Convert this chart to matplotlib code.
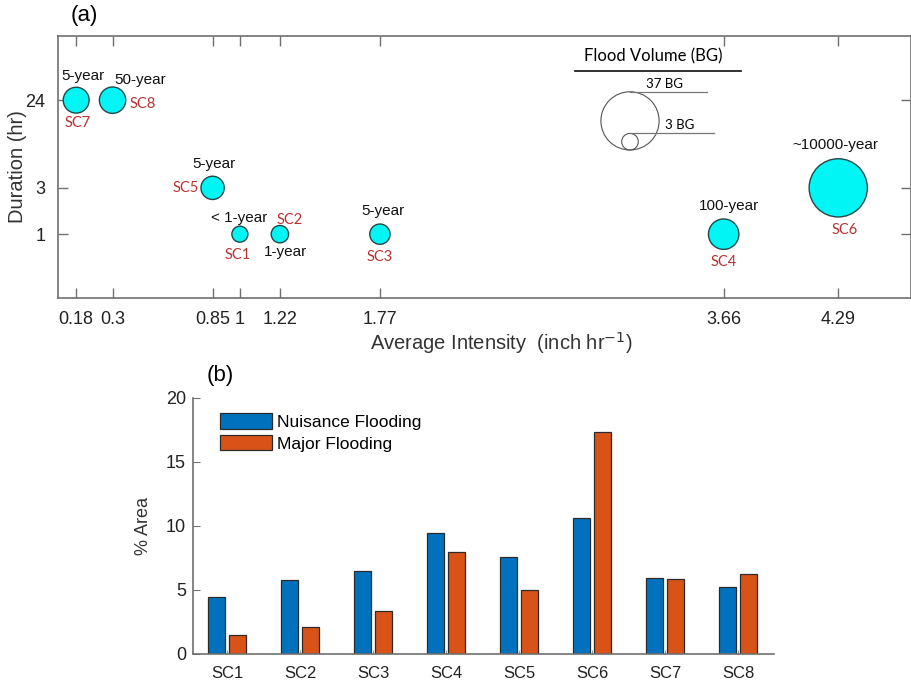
import numpy as np
import matplotlib
matplotlib.use("Agg")
import matplotlib.pyplot as plt

plt.rcParams['font.family'] = ['Liberation Sans', 'DejaVu Sans']

# (a) storm scenarios
scenarios = ["SC1", "SC2", "SC3", "SC4", "SC5", "SC6", "SC7", "SC8"]
intensity_pos = [1.0, 1.22, 1.77, 3.66, 0.85, 4.29, 0.10, 0.30]   # SC7 drawn left of 0.3
duration = [1, 1, 1, 1, 3, 3, 24, 24]
volume_bg = [2.8, 3.3, 4.5, 10.1, 5.9, 37, 7.3, 7.6]
return_period = ["< 1-year", "1-year", "5-year", "100-year", "5-year",
                 "~10000-year", "5-year", "50-year"]
xtick_pos = [0.10, 0.30, 0.85, 1.0, 1.22, 1.77, 3.66, 4.29]
xtick_labels = ["0.18", "0.3", "0.85", "1", "1.22", "1.77", "3.66", "4.29"]
ytick_vals = [1, 3, 24]
legend_volumes = [37, 3]

# (b) flooded area
nuisance = [4.43, 5.79, 6.52, 9.49, 7.61, 10.64, 5.95, 5.27]
major = [1.46, 2.09, 3.39, 8.0, 5.0, 17.31, 5.87, 6.28]

# label offsets in pixels (dx, dy) for period text and scenario name
period_off = [(-1, 16), (6, -18), (3, 23), (5, 28), (1, 24), (-3, 43), (7, 24), (28, 20)]
sc_off = [(-2, -21), (10, 14), (0, -23), (0, -28), (-27, 0), (6, -42), (1, -23), (30, -4)]

size_per_bg = 47.5  # marker area (pt^2) per billion gallons
red = "#B83232"
spine_col = "#707070"

fig = plt.figure(figsize=(9.12, 6.83), dpi=100)

# ---------- panel (a) ----------
ax1 = fig.add_axes([58 / 912, 1 - 298 / 683, 853 / 912, 262 / 683])
ax1.scatter(intensity_pos, duration, s=np.array(volume_bg) * size_per_bg,
            facecolor="#00F5F5", edgecolor="#234848", linewidth=1.0, zorder=3)
ax1.set_yscale("log")
ax1.set_xlim(0.0, 4.69)
ax1.set_ylim(0.22, 110)
ax1.set_xticks(xtick_pos)
ax1.set_xticklabels(xtick_labels)
ax1.set_yticks(ytick_vals)
ax1.set_yticklabels([str(v) for v in ytick_vals])
ax1.minorticks_off()
ax1.tick_params(direction="in", length=7, width=1, color=spine_col,
                top=True, right=True, labelsize=13, pad=9, labelcolor="#222222")
for sp in ax1.spines.values():
    sp.set_color(spine_col)
    sp.set_linewidth(1.2)
ax1.set_xlabel("Average Intensity  (inch hr$^{-1}$)", fontsize=14.5, color="#333333")
ax1.xaxis.set_label_coords(0.52, -0.123)
ax1.set_ylabel("Duration (hr)", fontsize=14.5, color="#333333")
ax1.yaxis.set_label_coords(-0.036, 0.5)

for i in range(len(scenarios)):
    dx, dy = period_off[i]
    ax1.annotate(return_period[i], (intensity_pos[i], duration[i]),
                 xytext=(dx * 0.72, dy * 0.72), textcoords="offset points",
                 ha="center", va="center", fontsize=11, color="#111111")
    dx, dy = sc_off[i]
    ax1.annotate(scenarios[i], (intensity_pos[i], duration[i]),
                 xytext=(dx * 0.72, dy * 0.72), textcoords="offset points",
                 ha="center", va="center", fontsize=10.5, color=red,
                 family=["Lato", "DejaVu Sans"])

# flood volume legend
lx = (630 - 58) / 853
ax1.text((653 - 58) / 853, (298 - 56) / 262, "Flood Volume (BG)", transform=ax1.transAxes,
         ha="center", va="center", fontsize=12, family=["Lato", "DejaVu Sans"])
ax1.plot([(575 - 58) / 853, (741 - 58) / 853], [(298 - 71) / 262] * 2,
         transform=ax1.transAxes, color="#222222", lw=1.3, clip_on=False)
base_y = (298 - 150) / 262
for v, lbl_x, line_end in zip(legend_volumes, [664, 680], [707, 714]):
    r_px = np.sqrt(v * size_per_bg) / 2 / 0.72
    cy = base_y + r_px / 262
    ax1.scatter([lx], [cy], s=v * size_per_bg, transform=ax1.transAxes,
                facecolor="none", edgecolor="#555555", linewidth=0.8)
    top_y = base_y + 2 * r_px / 262
    ax1.plot([lx, (line_end - 58) / 853], [top_y, top_y], transform=ax1.transAxes,
             color="#777777", lw=0.9)
    ax1.text((lbl_x - 58) / 853, top_y + 8 / 262, f"{v} BG", transform=ax1.transAxes,
             ha="center", va="center", fontsize=9.5, family=["Lato", "DejaVu Sans"])

fig.text(84 / 912, 1 - 16 / 683, "(a)", fontsize=16, ha="center", va="center")

# ---------- panel (b) ----------
ax2 = fig.add_axes([193 / 912, 1 - 654 / 683, 581 / 912, 256 / 683])
x = np.arange(1, len(scenarios) + 1)
w = 0.232
ax2.bar(x - 0.145, nuisance, w, color="#0072BD", edgecolor="#2b2b2b", linewidth=0.9,
        label="Nuisance Flooding")
ax2.bar(x + 0.145, major, w, color="#D95319", edgecolor="#2b2b2b", linewidth=0.9,
        label="Major Flooding")
ax2.set_xlim(0.53, 8.49)
ax2.set_ylim(0, 20)
ax2.set_xticks(x)
ax2.set_xticklabels(scenarios)
ax2.set_yticks([0, 5, 10, 15, 20])
ax2.spines["top"].set_visible(False)
ax2.spines["right"].set_visible(False)
for sp in ["left", "bottom"]:
    ax2.spines[sp].set_color(spine_col)
    ax2.spines[sp].set_linewidth(1.2)
ax2.tick_params(axis="y", direction="in", length=5, color=spine_col, labelsize=13, pad=5,
                labelcolor="#222222")
ax2.tick_params(axis="x", direction="in", length=3, color="#999999", labelsize=12, pad=9,
                labelcolor="#222222")
ax2.set_ylabel("% Area", fontsize=13, color="#333333", labelpad=10)
ax2.legend(loc="upper left", bbox_to_anchor=(220 / 912, 1 - 413 / 683),
           bbox_transform=fig.transFigure, frameon=False, fontsize=12.5,
           handlelength=3.0, handleheight=1.0, handletextpad=0.3,
           labelspacing=0.3, borderpad=0, borderaxespad=0)

fig.text(220 / 912, 1 - 375 / 683, "(b)", fontsize=16, ha="center", va="center")

fig.savefig("out.png", dpi=100)
